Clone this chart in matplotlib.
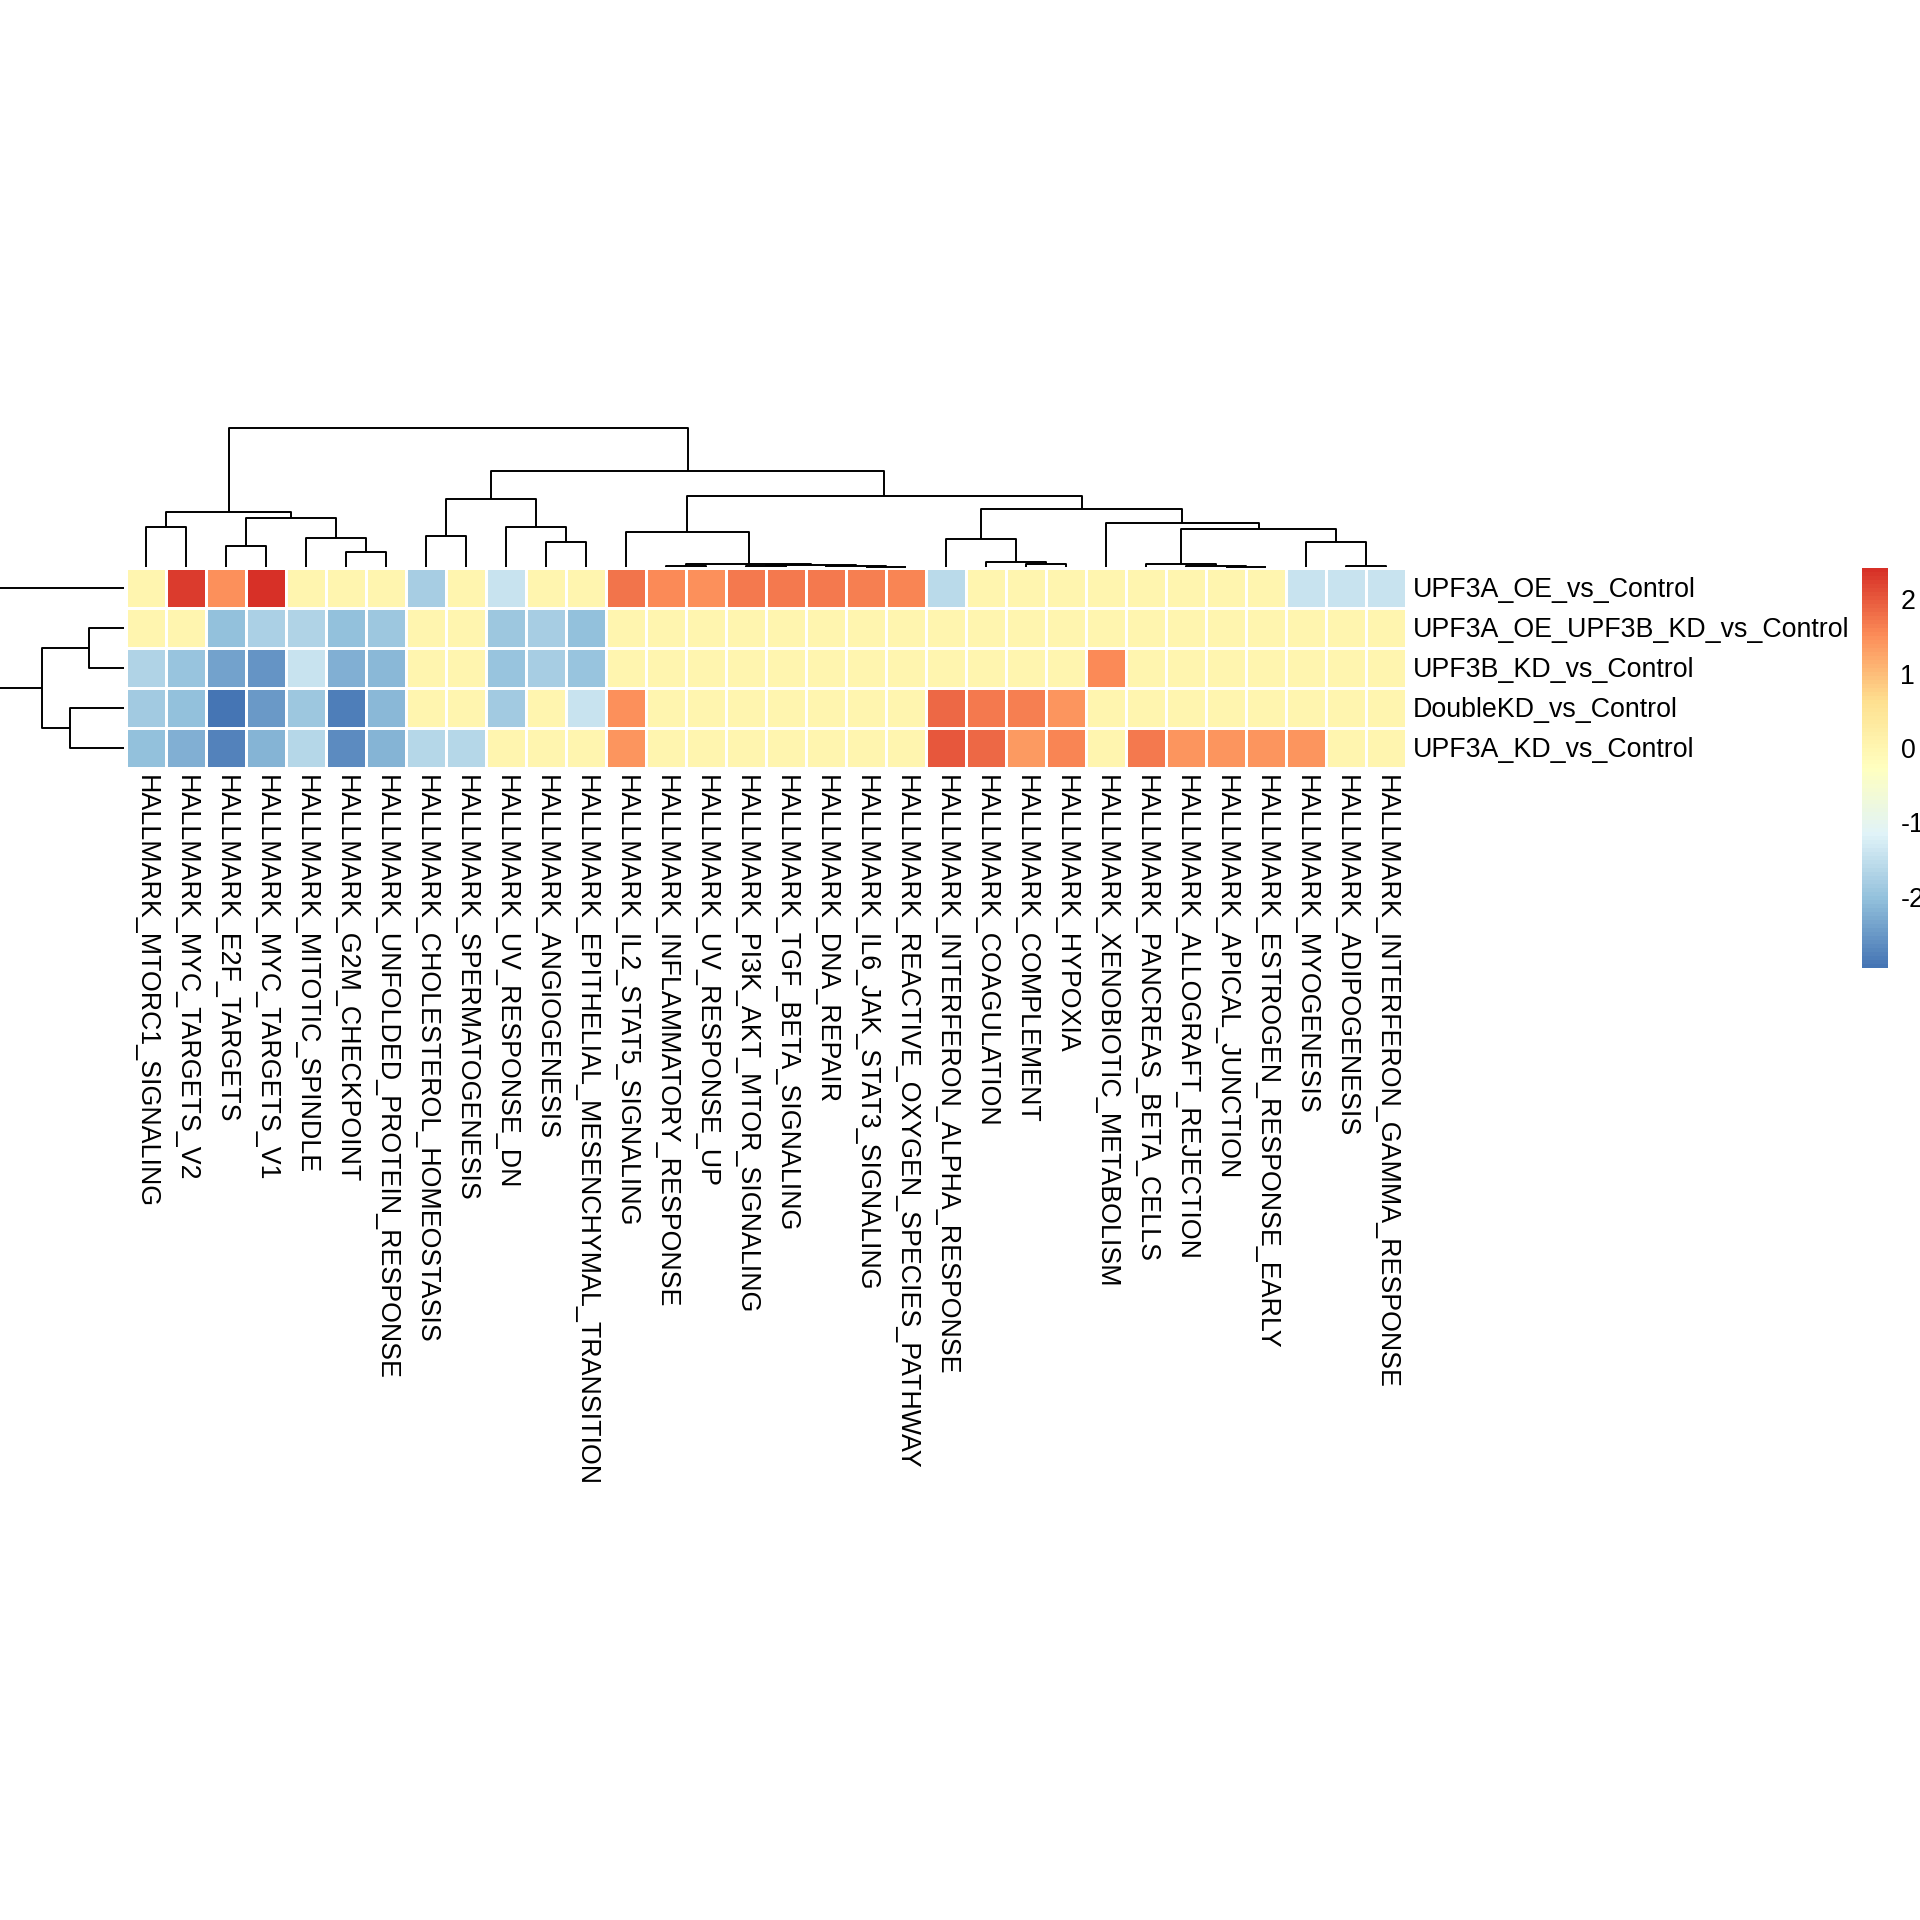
import numpy as np
import matplotlib
matplotlib.use("Agg")
import matplotlib.pyplot as plt
from matplotlib.colors import LinearSegmentedColormap

plt.rcParams['font.family'] = ['Liberation Sans', 'DejaVu Sans']
plt.rcParams['axes.unicode_minus'] = False

# pathways (columns), in dendrogram order
pathways = [
    "HALLMARK_MTORC1_SIGNALING", "HALLMARK_MYC_TARGETS_V2", "HALLMARK_E2F_TARGETS",
    "HALLMARK_MYC_TARGETS_V1", "HALLMARK_MITOTIC_SPINDLE", "HALLMARK_G2M_CHECKPOINT",
    "HALLMARK_UNFOLDED_PROTEIN_RESPONSE", "HALLMARK_CHOLESTEROL_HOMEOSTASIS",
    "HALLMARK_SPERMATOGENESIS", "HALLMARK_UV_RESPONSE_DN", "HALLMARK_ANGIOGENESIS",
    "HALLMARK_EPITHELIAL_MESENCHYMAL_TRANSITION", "HALLMARK_IL2_STAT5_SIGNALING",
    "HALLMARK_INFLAMMATORY_RESPONSE", "HALLMARK_UV_RESPONSE_UP",
    "HALLMARK_PI3K_AKT_MTOR_SIGNALING", "HALLMARK_TGF_BETA_SIGNALING",
    "HALLMARK_DNA_REPAIR", "HALLMARK_IL6_JAK_STAT3_SIGNALING",
    "HALLMARK_REACTIVE_OXYGEN_SPECIES_PATHWAY", "HALLMARK_INTERFERON_ALPHA_RESPONSE",
    "HALLMARK_COAGULATION", "HALLMARK_COMPLEMENT", "HALLMARK_HYPOXIA",
    "HALLMARK_XENOBIOTIC_METABOLISM", "HALLMARK_PANCREAS_BETA_CELLS",
    "HALLMARK_ALLOGRAFT_REJECTION", "HALLMARK_APICAL_JUNCTION",
    "HALLMARK_ESTROGEN_RESPONSE_EARLY", "HALLMARK_MYOGENESIS",
    "HALLMARK_ADIPOGENESIS", "HALLMARK_INTERFERON_GAMMA_RESPONSE",
]

comparisons = ["UPF3A_OE_vs_Control", "UPF3A_OE_UPF3B_KD_vs_Control",
               "UPF3B_KD_vs_Control", "DoubleKD_vs_Control", "UPF3A_KD_vs_Control"]

# NES-like scores (one list per comparison)
upf3a_oe = [0, 2.3, 1.5, 2.42, 0, 0, 0, -1.8, 0, -1.45, 0, 0,
            1.75, 1.55, 1.5, 1.7, 1.7, 1.7, 1.65, 1.6,
            -1.6, 0, 0, 0, 0, 0, 0, 0, 0, -1.45, -1.45, -1.45]
upf3a_oe_upf3b_kd = [0, 0, -2.0, -1.75, -1.7, -2.0, -1.9, 0, 0, -1.9, -1.8, -2.0,
                     0, 0, 0, 0, 0, 0, 0, 0,
                     0, 0, 0, 0, 0, 0, 0, 0, 0, 0, 0, 0]
upf3b_kd = [-1.7, -1.95, -2.4, -2.55, -1.45, -2.25, -2.1, 0, 0, -1.95, -1.8, -1.95,
            0, 0, 0, 0, 0, 0, 0, 0,
            0, 0, 0, 0, 1.55, 0, 0, 0, 0, 0, 0, 0]
double_kd = [-1.85, -2.0, -2.96, -2.5, -1.9, -2.8, -2.1, 0, 0, -1.85, 0, -1.45,
             1.5, 0, 0, 0, 0, 0, 0, 0,
             1.85, 1.7, 1.65, 1.4, 0, 0, 0, 0, 0, 0, 0, 0]
upf3a_kd = [-2.0, -2.25, -2.75, -2.2, -1.65, -2.65, -2.2, -1.65, -1.65, 0, 0, 0,
            1.4, 0, 0, 0, 0, 0, 0, 0,
            2.0, 1.85, 1.35, 1.6, 0, 1.7, 1.4, 1.4, 1.4, 1.4, 0, 0]

mat = np.array([upf3a_oe, upf3a_oe_upf3b_kd, upf3b_kd, double_kd, upf3a_kd])

# dendrograms: (merge height, left, right), leaves are positions
col_tree = (138.7,
            (55.3, (40, 0, 1), (49, (21, 2, 3), (29.3, 4, (15, 5, 6)))),
            (95.7,
             (68, (31, 7, 8), (40.3, 9, (25, 10, 11))),
             (71,
              (35.5, 12, (3.0, (1.0, 13, 14), (2.5, (1.0, 15, 16), (0.8, 17, (0.3, 18, 19))))),
              (58.3,
               (27.7, 20, (5.3, 21, (3.0, 22, 23))),
               (44.3, 24, (37.7, (3.0, 25, (1.0, 26, (0.3, 27, 28))),
                           (24.7, 29, (0.7, 30, 31))))))))
row_tree = (127, 0, (81.7, (35.3, 1, 2), (53.7, 3, 4)))

pal = ["#4575B4", "#91BFDB", "#E0F3F8", "#FFFFBF", "#FEE090", "#FC8D59", "#D73027"]
cmap = LinearSegmentedColormap.from_list("rdylbu_r", pal, N=100)
vmin, vmax = mat.min(), mat.max()

W = H = 1920
FS = 19.3
fig = plt.figure(figsize=(19.2, 19.2), dpi=100)


def px_axes(x0, y0, x1, y1):
    ax = fig.add_axes([x0 / W, 1 - y1 / H, (x1 - x0) / W, (y1 - y0) / H])
    ax.set_axis_off()
    return ax


def draw_tree(ax, node, horizontal):
    # returns (position, height) of this node and draws its links
    if isinstance(node, int):
        return node + 0.5, 0.0
    h, left, right = node
    p1, h1 = draw_tree(ax, left, horizontal)
    p2, h2 = draw_tree(ax, right, horizontal)
    ps = [p1, p1, p2, p2]
    hs = [h1, h, h, h2]
    if horizontal:
        ax.plot(ps, hs, color="black", lw=1.4, clip_on=False, solid_capstyle="butt")
    else:
        ax.plot(hs, ps, color="black", lw=1.4, clip_on=False, solid_capstyle="butt")
    return (p1 + p2) / 2, h


# heatmap
ax = px_axes(126, 568, 1406, 768)
ax.pcolormesh(mat, cmap=cmap, vmin=vmin, vmax=vmax, edgecolors="white", linewidth=1.0)
ax.set_xlim(0, mat.shape[1])
ax.set_ylim(mat.shape[0], 0)
for i, name in enumerate(comparisons):
    ax.text(mat.shape[1] + 0.18, i + 0.55, name, ha="left", va="center", fontsize=FS)
for j, name in enumerate(pathways):
    ax.text(j + 0.5, mat.shape[0] + 0.17, name, ha="left", va="center",
            rotation=-90, rotation_mode="anchor", fontsize=FS)

# column dendrogram
axc = px_axes(126, 428.3, 1406, 567)
draw_tree(axc, col_tree, True)
axc.set_xlim(0, mat.shape[1])
axc.set_ylim(0, col_tree[0])

# row dendrogram (root sits just past the left edge)
axr = px_axes(-3, 568, 124, 768)
draw_tree(axr, row_tree, False)
axr.set_ylim(mat.shape[0], 0)
axr.set_xlim(row_tree[0], 0)

# legend
axl = fig.add_axes([1862 / W, 1 - 968 / H, 26 / W, 400 / H])
sm = plt.cm.ScalarMappable(cmap=cmap, norm=plt.Normalize(vmin, vmax))
cb = fig.colorbar(sm, cax=axl, ticks=[-2, -1, 0, 1, 2])
cb.outline.set_visible(False)
cb.ax.tick_params(length=0, pad=9, labelsize=FS)

fig.savefig("out.png", dpi=100)
